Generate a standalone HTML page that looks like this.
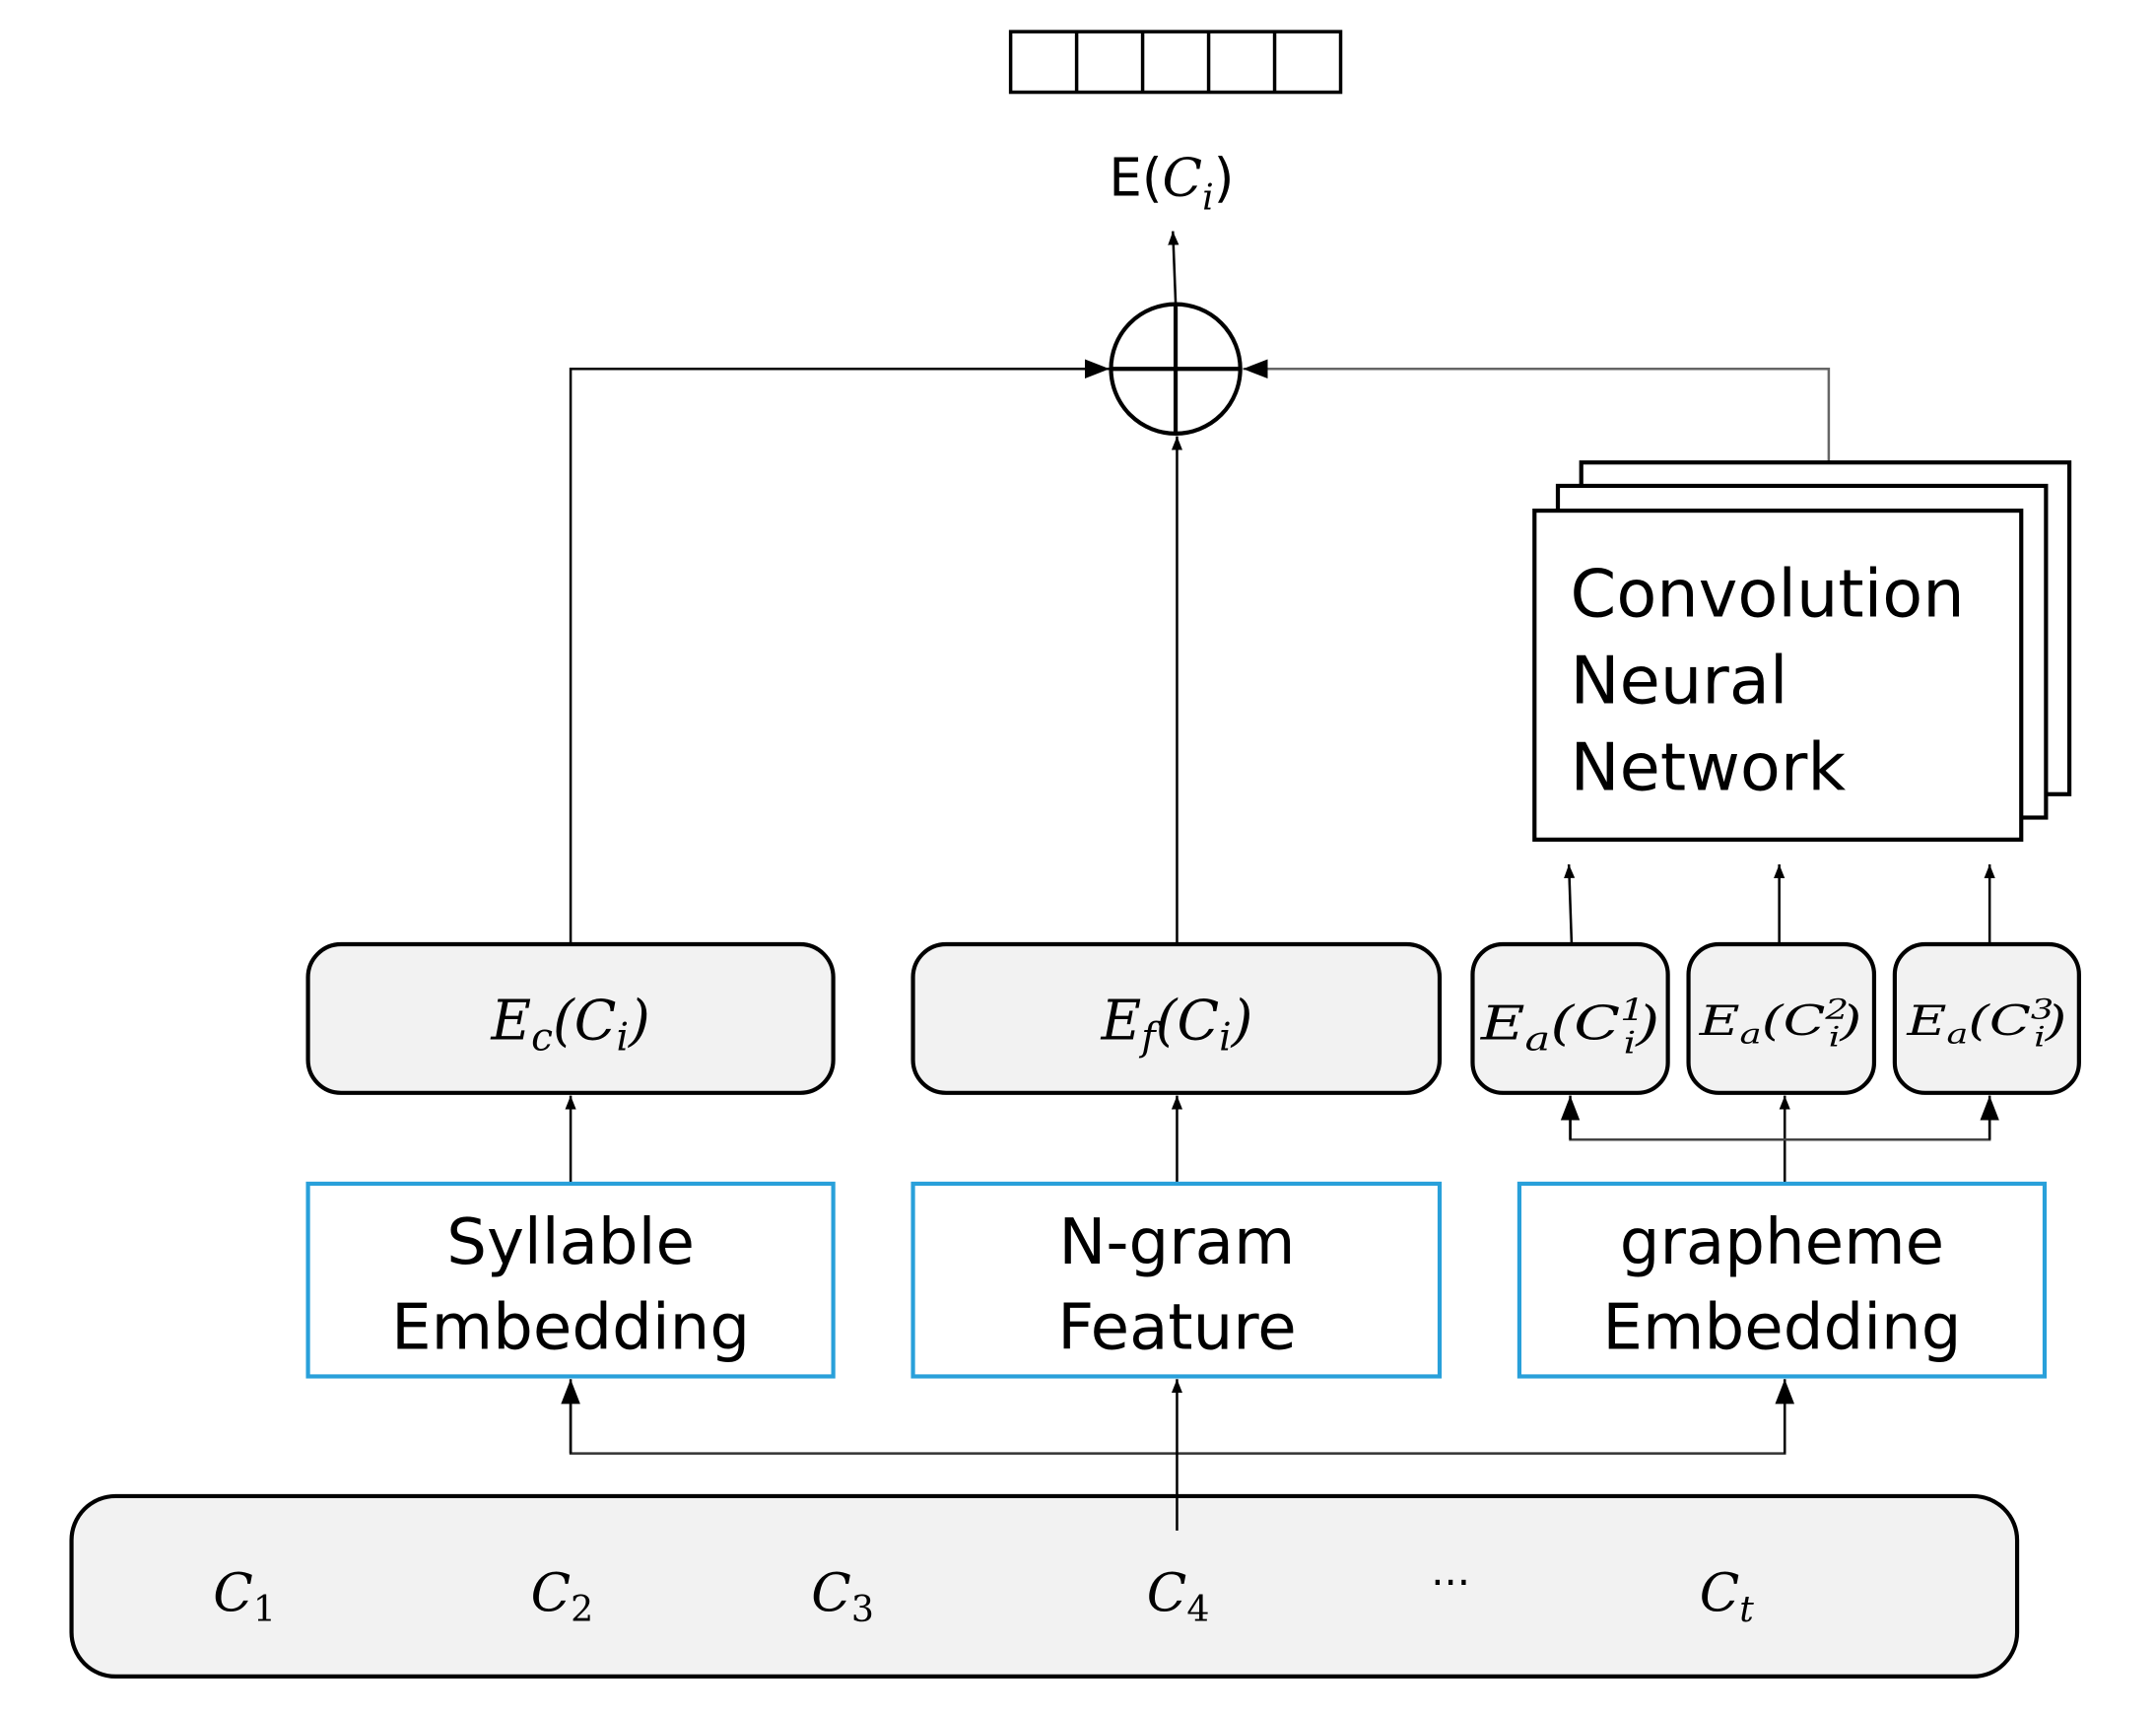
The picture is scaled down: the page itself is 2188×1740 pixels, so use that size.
<!DOCTYPE html>
<html><head><meta charset="utf-8"><style>
html,body{margin:0;padding:0;background:#fff;}
svg{display:block;}
.m{font-family:"DejaVu Serif","Liberation Serif",serif;font-style:italic;}
.s{font-family:"DejaVu Sans","Liberation Sans",sans-serif;}
</style></head><body>
<svg width="2188" height="1740" viewBox="0 0 1568 1246" preserveAspectRatio="none" xmlns="http://www.w3.org/2000/svg">
<defs>
<marker id="a" markerWidth="10" markerHeight="10" refX="10" refY="5" orient="auto" markerUnits="userSpaceOnUse" viewBox="0 0 10 10"><path d="M0,1 L10,5 L0,9 Z" fill="#000"/></marker>
<marker id="b" markerWidth="18" markerHeight="16" refX="18" refY="8" orient="auto" markerUnits="userSpaceOnUse" viewBox="0 0 18 16"><path d="M0,1 L18,8 L0,15 Z" fill="#000"/></marker>
</defs>
<g fill="none" stroke="#000" stroke-width="2.5">
<rect x="735" y="23" width="240" height="44"/>
<line x1="783" y1="23" x2="783" y2="67"/><line x1="831" y1="23" x2="831" y2="67"/><line x1="879" y1="23" x2="879" y2="67"/><line x1="927" y1="23" x2="927" y2="67"/>
</g>
<text x="852" y="142" text-anchor="middle" font-size="38" class="s">E(<tspan class="m">C</tspan><tspan class="m" font-size="26" dy="10">i</tspan><tspan dy="-10">)</tspan></text>
<g fill="#f2f2f2" stroke="#000" stroke-width="3">
<rect x="52" y="1087" width="1415" height="131" rx="32"/>
</g>
<g stroke="#000" stroke-width="1.8" fill="none">
<line x1="855" y1="220" x2="853" y2="168" marker-end="url(#a)"/>
<polyline points="415,686 415,268 807,268" marker-end="url(#b)"/>
<line x1="856" y1="686" x2="856" y2="317" marker-end="url(#a)"/>
<polyline points="1330,336 1330,268 904,268" stroke="#666" marker-end="url(#b)"/>
<line x1="1143" y1="686" x2="1141" y2="628" marker-end="url(#a)"/>
<line x1="1294" y1="686" x2="1294" y2="628" marker-end="url(#a)"/>
<line x1="1447" y1="686" x2="1447" y2="628" marker-end="url(#a)"/>
<line x1="415" y1="860" x2="415" y2="796" marker-end="url(#a)"/>
<line x1="856" y1="860" x2="856" y2="796" marker-end="url(#a)"/>
<line x1="1298" y1="860" x2="1298" y2="796" marker-end="url(#a)"/>
<polyline points="1142,810 1142,828 1447,828 1447,810" stroke="#444"/>
<line x1="1142" y1="828" x2="1142" y2="796" marker-end="url(#b)"/>
<line x1="1447" y1="828" x2="1447" y2="796" marker-end="url(#b)"/>
<polyline points="415,1020 415,1056 1298,1056 1298,1020" stroke="#333"/>
<line x1="415" y1="1056" x2="415" y2="1002" marker-end="url(#b)"/>
<line x1="1298" y1="1056" x2="1298" y2="1002" marker-end="url(#b)"/>
<line x1="856" y1="1112" x2="856" y2="1002" marker-end="url(#a)"/>
</g>
<circle cx="855" cy="268" r="47" fill="none" stroke="#000" stroke-width="3"/>
<line x1="808" y1="268" x2="902" y2="268" stroke="#000" stroke-width="3"/>
<line x1="855" y1="221" x2="855" y2="315" stroke="#000" stroke-width="3"/>
<g fill="#fff" stroke="#000" stroke-width="3">
<rect x="1150" y="336" width="355" height="241"/>
<rect x="1133" y="353" width="355" height="241"/>
<rect x="1116" y="371" width="354" height="239"/>
</g>
<g class="s" font-size="48" fill="#000">
<text x="1142" y="448">Convolution</text>
<text x="1142" y="511">Neural</text>
<text x="1142" y="574">Network</text>
</g>
<g fill="#f2f2f2" stroke="#000" stroke-width="3">
<rect x="224" y="686" width="382" height="108" rx="24"/>
<rect x="664" y="686" width="383" height="108" rx="24"/>
<rect x="1071" y="686" width="142" height="108" rx="22"/>
<rect x="1228" y="686" width="135" height="108" rx="22"/>
<rect x="1378" y="686" width="134" height="108" rx="22"/>
</g>
<g class="m" fill="#000">
<text x="415" y="755" text-anchor="middle" font-size="40">E<tspan font-size="28" dy="8">c</tspan><tspan dy="-8">(C</tspan><tspan font-size="28" dy="8">i</tspan><tspan dy="-8">)</tspan></text>
<text x="856" y="755" text-anchor="middle" font-size="40">E<tspan font-size="28" dy="8">f</tspan><tspan dy="-8">(C</tspan><tspan font-size="28" dy="8">i</tspan><tspan dy="-8">)</tspan></text>
<text x="1142" y="755" text-anchor="middle" font-size="34" textLength="130" lengthAdjust="spacingAndGlyphs">E<tspan font-size="24" dy="8">a</tspan><tspan dy="-8">(C</tspan><tspan font-size="22" dy="-14">1</tspan><tspan font-size="22" dx="-12" dy="24">i</tspan><tspan dy="-10">)</tspan></text>
<text x="1295" y="752" text-anchor="middle" font-size="30" textLength="118" lengthAdjust="spacingAndGlyphs">E<tspan font-size="20" dy="6">a</tspan><tspan dy="-6">(C</tspan><tspan font-size="20" dy="-12">2</tspan><tspan font-size="20" dx="-11" dy="20">i</tspan><tspan dy="-8">)</tspan></text>
<text x="1445" y="752" text-anchor="middle" font-size="30" textLength="116" lengthAdjust="spacingAndGlyphs">E<tspan font-size="20" dy="6">a</tspan><tspan dy="-6">(C</tspan><tspan font-size="20" dy="-12">3</tspan><tspan font-size="20" dx="-11" dy="20">i</tspan><tspan dy="-8">)</tspan></text>
</g>
<g fill="#fff" stroke="#29a0da" stroke-width="3">
<rect x="224" y="860" width="382" height="140"/>
<rect x="664" y="860" width="383" height="140"/>
<rect x="1105" y="860" width="382" height="140"/>
</g>
<g class="s" font-size="46" fill="#000" text-anchor="middle">
<text x="415" y="918">Syllable</text><text x="415" y="980">Embedding</text>
<text x="856" y="918">N-gram</text><text x="856" y="980">Feature</text>
<text x="1296" y="918">grapheme</text><text x="1296" y="980">Embedding</text>
</g>
<g class="m" font-size="38" fill="#000">
<text x="155" y="1170">C<tspan font-size="26" dy="8" font-style="normal">1</tspan></text>
<text x="386" y="1170">C<tspan font-size="26" dy="8" font-style="normal">2</tspan></text>
<text x="590" y="1170">C<tspan font-size="26" dy="8" font-style="normal">3</tspan></text>
<text x="834" y="1170">C<tspan font-size="26" dy="8" font-style="normal">4</tspan></text>
<text x="1236" y="1170">C<tspan font-size="26" dy="8">t</tspan></text>
</g>
<text x="1055" y="1160" text-anchor="middle" font-size="30" class="s">···</text>
</svg>
</body></html>
